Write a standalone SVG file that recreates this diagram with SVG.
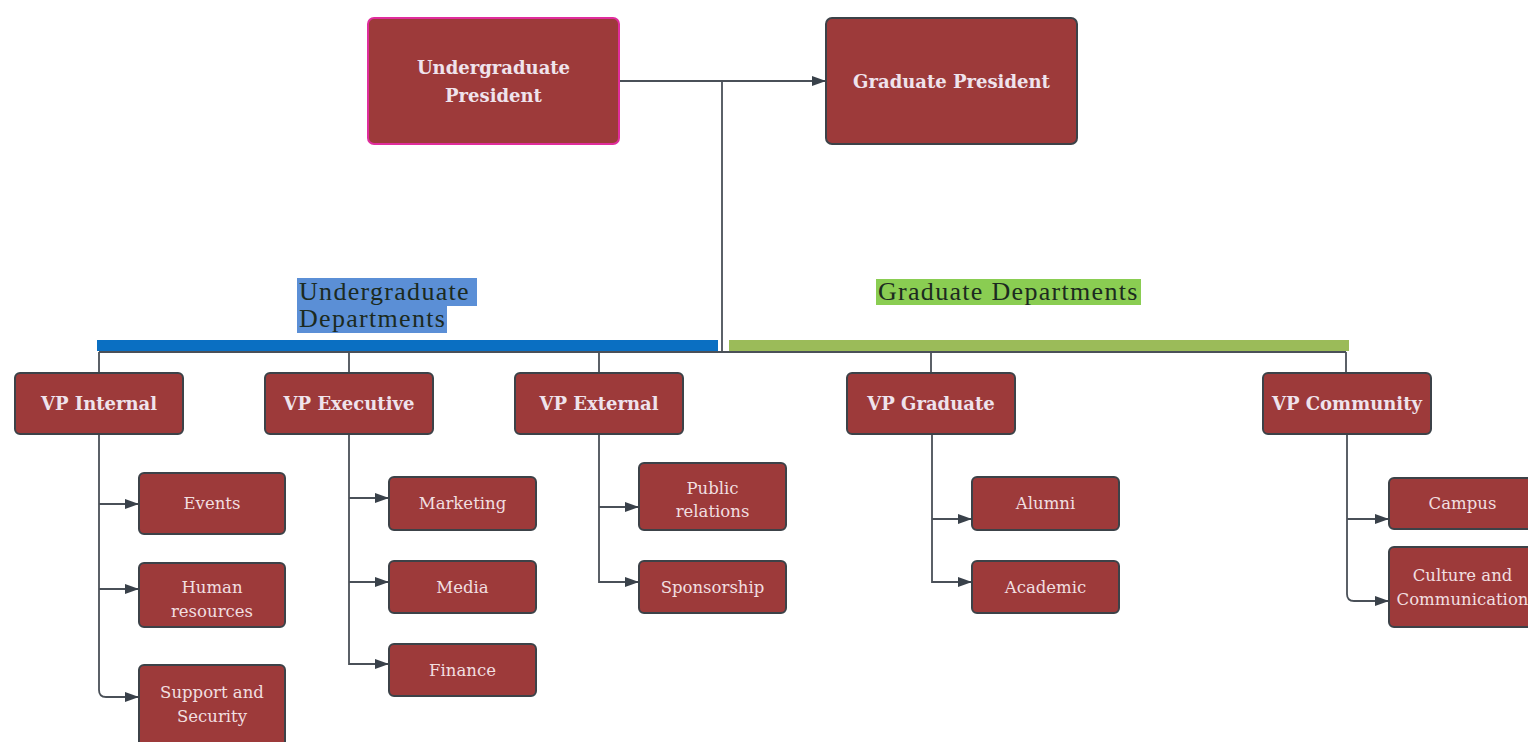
<svg xmlns="http://www.w3.org/2000/svg" width="1528" height="742" viewBox="0 0 1528 742">
<defs>
<marker id="arr" markerWidth="14" markerHeight="12" refX="14" refY="6" orient="auto" markerUnits="userSpaceOnUse">
<path d="M0,1 L14,6 L0,11 Z" fill="#39414a"/>
</marker>
<style>
.box{fill:#9d3a3a;stroke:#3c4248;stroke-width:2}
.pbox{fill:#9d3a3a;stroke:#e02d9c;stroke-width:2}
.lb{font-family:"DejaVu Serif","Liberation Serif",serif;font-weight:bold;font-size:18px;fill:#efe3ec;text-anchor:middle}
.lc{font-family:"DejaVu Serif","Liberation Serif",serif;font-size:16.5px;fill:#f1dfe0;text-anchor:middle}
.hd{font-family:"Liberation Serif",serif;font-size:26px;fill:#1c2a20;letter-spacing:1.3px}
.cn{fill:none;stroke:#4a5058;stroke-width:1.8}
</style>
</defs>
<rect width="1528" height="742" fill="#ffffff"/>

<g id="labels">
<rect x="297" y="278" width="180" height="28" fill="#5b8fd6"/>
<rect x="297" y="306" width="150" height="27" fill="#5b8fd6"/>
<text class="hd" x="299" y="300">Undergraduate</text>
<text class="hd" x="299" y="327">Departments</text>
<rect x="876" y="279" width="265" height="26" fill="#8acd52"/>
<text class="hd" x="878" y="300">Graduate Departments</text>
<rect x="97" y="340" width="621" height="11" fill="#0a6fc2"/>
<rect x="729" y="340" width="620" height="11" fill="#9bbb59"/>
</g>

<g id="connectors">
<path class="cn" d="M619,81 H826" marker-end="url(#arr)"/>
<path class="cn" d="M722,81 V352"/>
<path class="cn" d="M99,352 H1346"/>
<path class="cn" d="M99,352 V373 M349,352 V373 M599,352 V373 M931,352 V373 M1346,352 V373"/>
<path class="cn" d="M99,434 V690 Q99,697 106,697 H139" marker-end="url(#arr)"/>
<path class="cn" d="M99,504 H139" marker-end="url(#arr)"/>
<path class="cn" d="M99,589 H139" marker-end="url(#arr)"/>
<path class="cn" d="M349,434 V664 H389" marker-end="url(#arr)"/>
<path class="cn" d="M349,498 H389" marker-end="url(#arr)"/>
<path class="cn" d="M349,582 H389" marker-end="url(#arr)"/>
<path class="cn" d="M599,434 V582 H639" marker-end="url(#arr)"/>
<path class="cn" d="M599,507 H639" marker-end="url(#arr)"/>
<path class="cn" d="M932,434 V582 H972" marker-end="url(#arr)"/>
<path class="cn" d="M932,519 H972" marker-end="url(#arr)"/>
<path class="cn" d="M1347,434 V594 Q1347,601 1354,601 H1389" marker-end="url(#arr)"/>
<path class="cn" d="M1347,519 H1389" marker-end="url(#arr)"/>
</g>

<g id="undergrad-president">
<rect class="pbox" x="368" y="18" width="251" height="126" rx="6"/>
<text class="lb" x="493.5" y="74">Undergraduate</text>
<text class="lb" x="493.5" y="102">President</text>
</g>
<g id="grad-president">
<rect class="box" x="826" y="18" width="251" height="126" rx="6"/>
<text class="lb" x="951.5" y="88">Graduate President</text>
</g>

<g id="vp-internal">
<rect class="box" x="15" y="373" width="168" height="61" rx="5"/>
<text class="lb" x="99" y="410">VP Internal</text>
</g>
<g id="vp-executive">
<rect class="box" x="265" y="373" width="168" height="61" rx="5"/>
<text class="lb" x="349" y="410">VP Executive</text>
</g>
<g id="vp-external">
<rect class="box" x="515" y="373" width="168" height="61" rx="5"/>
<text class="lb" x="599" y="410">VP External</text>
</g>
<g id="vp-graduate">
<rect class="box" x="847" y="373" width="168" height="61" rx="5"/>
<text class="lb" x="931" y="410">VP Graduate</text>
</g>
<g id="vp-community">
<rect class="box" x="1263" y="373" width="168" height="61" rx="5"/>
<text class="lb" x="1347" y="410">VP Community</text>
</g>

<g id="events">
<rect class="box" x="139" y="473" width="146" height="61" rx="5"/>
<text class="lc" x="212" y="509">Events</text>
</g>
<g id="human-resources">
<rect class="box" x="139" y="563" width="146" height="64" rx="5"/>
<text class="lc" x="212" y="593">Human</text>
<text class="lc" x="212" y="617">resources</text>
</g>
<g id="support-security">
<rect class="box" x="139" y="665" width="146" height="82" rx="5"/>
<text class="lc" x="212" y="698">Support and</text>
<text class="lc" x="212" y="722">Security</text>
</g>

<g id="marketing">
<rect class="box" x="389" y="477" width="147" height="53" rx="5"/>
<text class="lc" x="462.5" y="509">Marketing</text>
</g>
<g id="media">
<rect class="box" x="389" y="561" width="147" height="52" rx="5"/>
<text class="lc" x="462.5" y="593">Media</text>
</g>
<g id="finance">
<rect class="box" x="389" y="644" width="147" height="52" rx="5"/>
<text class="lc" x="462.5" y="676">Finance</text>
</g>

<g id="public-relations">
<rect class="box" x="639" y="463" width="147" height="67" rx="5"/>
<text class="lc" x="712.5" y="494">Public</text>
<text class="lc" x="712.5" y="517">relations</text>
</g>
<g id="sponsorship">
<rect class="box" x="639" y="561" width="147" height="52" rx="5"/>
<text class="lc" x="712.5" y="593">Sponsorship</text>
</g>

<g id="alumni">
<rect class="box" x="972" y="477" width="147" height="53" rx="5"/>
<text class="lc" x="1045.5" y="509">Alumni</text>
</g>
<g id="academic">
<rect class="box" x="972" y="561" width="147" height="52" rx="5"/>
<text class="lc" x="1045.5" y="593">Academic</text>
</g>

<g id="campus">
<rect class="box" x="1389" y="478" width="147" height="51" rx="5"/>
<text class="lc" x="1462.5" y="509">Campus</text>
</g>
<g id="culture-communication">
<rect class="box" x="1389" y="547" width="147" height="80" rx="5"/>
<text class="lc" x="1462.5" y="581">Culture and</text>
<text class="lc" x="1462.5" y="605">Communication</text>
</g>
</svg>
